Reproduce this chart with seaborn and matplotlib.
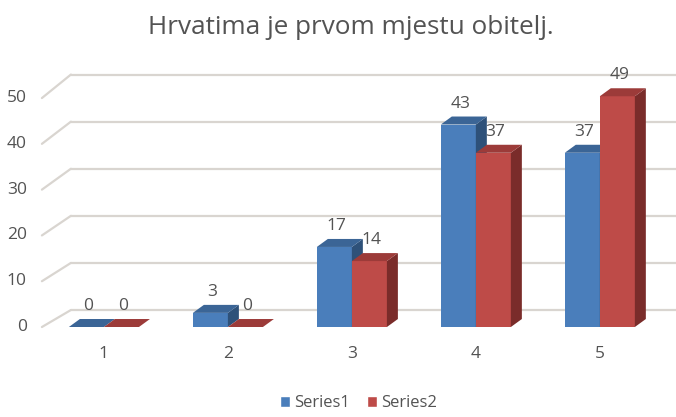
import matplotlib
matplotlib.use("Agg")
import matplotlib.pyplot as plt
import matplotlib.patches as mpatches
import matplotlib.transforms as mtransforms
import seaborn as sns
import pandas as pd

# chart data
categories = ["1", "2", "3", "4", "5"]
series1 = [0, 3, 17, 43, 37]
series2 = [0, 0, 14, 37, 49]
series_names = ["Series1", "Series2"]
y_ticks = [0, 10, 20, 30, 40, 50]
title = "Hrvatima je prvom mjestu obitelj."

df = pd.DataFrame({
    "cat": categories * 2,
    "value": series1 + series2,
    "series": [series_names[0]] * len(series1) + [series_names[1]] * len(series2),
})

front = {"Series1": "#4a7ebb", "Series2": "#be4b48"}
top = {"Series1": "#3b6596", "Series2": "#9c3b39"}
side = {"Series1": "#2e5179", "Series2": "#7a2c2a"}
text_col = "#535353"
grid_col = "#d9d5d0"

sns.set_theme(style="white")
plt.rcParams["font.family"] = ["Open Sans", "DejaVu Sans"]

fig = plt.figure(figsize=(6.76, 4.17), dpi=100)
ax = fig.add_axes([0.062, 0.2158, 0.917, 0.655])

sns.barplot(data=df, x="cat", y="value", hue="series", order=categories,
            hue_order=series_names, palette=front, width=0.565, saturation=1,
            legend=False, ax=ax, zorder=3)

ax.set_xlim(-0.5, 4.5)
ax.set_ylim(0, 58)
sns.despine(ax=ax, left=True, bottom=True)
ax.set_xlabel("")
ax.set_ylabel("")
ax.set_yticks(y_ticks)
ax.set_yticklabels([])
ax.tick_params(axis="y", length=0)
ax.tick_params(axis="x", length=0, pad=14, labelsize=12.5, labelcolor=text_col)
ax.grid(False)

# pixel -> data conversions
sx = ax.bbox.width / 5.0
sy = ax.bbox.height / 58.0
px = fig.dpi_scale_trans

# y labels sit a bit lower than the bar plane (perspective)
for v in y_ticks:
    shift = -0.13 * v
    tr = ax.get_yaxis_transform() + mtransforms.ScaledTranslation(-15 / 100, shift / 100, px)
    ax.text(0, v, str(v), transform=tr, ha="right", va="center",
            fontsize=12.5, color=text_col)
    # back wall gridline with diagonal edge
    ax.plot([-0.5, -0.5 + 29 / sx], [v + shift / sy, v + 17 / sy], color=grid_col,
            lw=1.6, clip_on=False, zorder=1)
    ax.plot([-0.5 + 29 / sx, 5.0], [v + 17 / sy, v + 17 / sy], color=grid_col,
            lw=1.6, clip_on=False, zorder=1)

# 3d faces on each bar
ddx = 11 / sx
ddy = 8 / sy
bars = [p for p in ax.patches if isinstance(p, mpatches.Rectangle)]
names = [series_names[0]] * len(categories) + [series_names[1]] * len(categories)
for i, (bar, name) in enumerate(zip(bars, names)):
    x0 = bar.get_x()
    x1 = x0 + bar.get_width()
    h = bar.get_height()
    z = 3 + (i % len(categories)) * 3 + (0 if name == series_names[0] else 1.5)
    bar.set_zorder(z)
    bar.set_linewidth(0)
    ax.add_patch(mpatches.Polygon([(x1, 0), (x1, h), (x1 + ddx, h + ddy), (x1 + ddx, ddy)],
                                  closed=True, facecolor=side[name], lw=0, zorder=z))
    ax.add_patch(mpatches.Polygon([(x0, h), (x1, h), (x1 + ddx, h + ddy), (x0 + ddx, h + ddy)],
                                  closed=True, facecolor=top[name], lw=0, zorder=z))
    ax.annotate(f"{int(h)}", (x0 + bar.get_width() / 2, h), xytext=(1.5, 15),
                textcoords="offset points", ha="center", va="center",
                fontsize=12.5, color=text_col, zorder=30)

fig.text(0.519, 0.935, title, ha="center", va="center", fontsize=18.8, color=text_col)

handles = [mpatches.Patch(facecolor=front[n], label=n) for n in series_names]
fig.legend(handles=handles, loc="lower center", bbox_to_anchor=(0.53, -0.022), ncol=2,
           frameon=False, fontsize=12, handlelength=0.6, handleheight=0.6,
           handletextpad=0.25, columnspacing=1.0, labelcolor=text_col)

fig.savefig("out.png", dpi=100)
